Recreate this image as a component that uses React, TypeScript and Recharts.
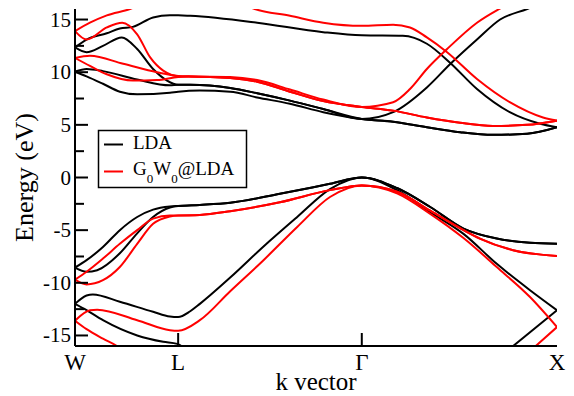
import { LineChart, Line, XAxis, YAxis, Label } from 'recharts';

type Pt = [number, number | null];

// path coordinate along W-L-Γ-X, scaled 0..100
const kTicks = [0, 21.4, 59.5, 100];
const kLabels = ['W', 'L', 'Γ', 'X'];
const energyTicks = [-15, -12.5, -10, -7.5, -5, -2.5, 0, 2.5, 5, 7.5, 10, 12.5, 15];

// LDA bands (eV)
const ldaBand1: Pt[] = [[0, -12.0], [2.4, -12.6], [5.8, -13.55], [12.9, -15.0], [18.3, -15.6], [21.2, -15.8], [23.0, -16.3], [24.5, -16.9], [50, null], [88.5, -16.9], [100, -12.6]];
const ldaBand2: Pt[] = [[0, -12.0], [2.4, -11.2], [3.7, -11.1], [9.3, -11.8], [16.2, -12.75], [19.7, -13.2], [21.4, -13.25], [23.9, -12.7], [25.9, -12.0], [32.2, -9.5], [39.0, -6.6], [46.1, -3.75], [52.9, -1.1], [59.5, 0], [66.8, -1.0], [73.7, -2.8], [80.6, -4.85], [87.5, -5.8], [94.4, -6.2], [100, -6.3]];
const ldaBand3: Pt[] = [[0, -8.55], [2.4, -8.95], [4.6, -8.8], [9.3, -7.2], [12.9, -5.3], [16.2, -3.75], [19.7, -2.85], [21.4, -2.7], [25.9, -2.6], [32.2, -2.4], [42.5, -1.55], [52.9, -0.6], [59.5, 0], [66.8, -1.2], [73.7, -3.3], [80.6, -5.35], [87.5, -8.2], [94.4, -10.7], [100, -12.6]];
const ldaBand4: Pt[] = [[0, -8.55], [2.4, -7.85], [5.8, -6.6], [9.3, -5.0], [12.9, -3.75], [16.2, -3.05], [19.7, -2.75], [21.4, -2.7], [25.9, -2.6], [32.2, -2.4], [42.5, -1.55], [52.9, -0.6], [59.5, 0], [66.8, -1.0], [73.7, -2.8], [80.6, -4.85], [87.5, -5.8], [94.4, -6.2], [100, -6.3]];
const ldaBand5: Pt[] = [[0, 10.05], [2.4, 9.6], [5.8, 8.9], [9.3, 8.15], [12.9, 7.9], [19.7, 8.05], [21.4, 8.15], [25.9, 8.25], [32.2, 8.15], [37.8, 7.6], [44.6, 7.0], [51.5, 6.2], [59.5, 5.55], [66.0, 5.3], [73.0, 4.77], [79.9, 4.3], [86.7, 4.05], [93.8, 4.15], [100, 4.77]];
const ldaBand6: Pt[] = [[0, 10.05], [2.4, 10.3], [5.8, 10.1], [12.9, 9.3], [19.7, 8.75], [21.4, 8.8], [23.9, 8.8], [32.2, 8.5], [37.8, 8.0], [44.6, 7.3], [51.5, 6.5], [59.5, 5.55], [66.0, 6.2], [73.0, 8.55], [77.8, 10.75], [83.4, 13.1], [88.2, 15.0], [93.8, 16.0], [96.5, 16.5]];
const ldaBand7: Pt[] = [[0, 12.35], [2.4, 11.9], [5.8, 12.5], [9.7, 13.3], [12.9, 12.2], [16.2, 10.3], [19.1, 9.2], [21.4, 8.8], [23.9, 8.8], [32.2, 8.5], [37.8, 8.0], [44.6, 7.3], [51.5, 6.5], [59.5, 5.55], [66.0, 5.3], [73.0, 4.77], [79.9, 4.3], [86.7, 4.05], [93.8, 4.15], [100, 4.77]];
const ldaBand8: Pt[] = [[0, 12.35], [2.4, 13.1], [6.6, 13.7], [9.3, 14.15], [12.0, 14.3], [16.2, 15.2], [19.7, 15.4], [21.4, 15.4], [23.9, 15.35], [37.8, 14.7], [51.5, 13.8], [59.5, 13.5], [68.0, 13.45], [73.0, 12.7], [77.8, 10.9], [83.4, 8.4], [90.2, 6.2], [96.5, 5.1], [100, 4.77]];

// G0W0@LDA bands (eV)
const gwBand1: Pt[] = [[0, -13.6], [2.4, -14.4], [5.8, -15.3], [8.7, -16.0], [10.5, -16.6], [50, null], [94.0, -16.65], [100, -14.2]];
const gwBand2: Pt[] = [[0, -13.6], [3.1, -12.6], [4.6, -12.55], [12.9, -13.55], [19.7, -14.5], [21.4, -14.55], [25.9, -13.55], [32.2, -10.8], [39.0, -7.9], [46.1, -4.7], [52.9, -1.85], [59.5, -0.75], [66.8, -1.35], [73.7, -3.15], [80.6, -5.0], [84.0, -5.8], [90.9, -6.9], [100, -7.45]];
const gwBand3: Pt[] = [[0, -9.7], [2.4, -10.15], [5.8, -9.75], [9.3, -8.5], [12.9, -6.3], [16.2, -4.4], [19.7, -3.7], [21.4, -3.6], [25.9, -3.55], [32.2, -3.2], [42.5, -2.35], [52.9, -1.2], [59.5, -0.75], [66.8, -1.5], [73.7, -3.45], [80.6, -5.75], [87.5, -8.5], [94.4, -11.35], [100, -14.2]];
const gwBand4: Pt[] = [[0, -9.7], [2.4, -8.95], [5.8, -7.7], [9.3, -6.3], [12.9, -5.0], [16.2, -3.9], [19.7, -3.6], [21.4, -3.6], [25.9, -3.55], [32.2, -3.2], [42.5, -2.35], [52.9, -1.2], [59.5, -0.75], [66.8, -1.35], [73.7, -3.15], [80.6, -5.0], [84.0, -5.8], [90.9, -6.9], [100, -7.45]];
const gwBand5: Pt[] = [[0, 11.35], [3.1, 10.6], [6.6, 9.8], [12.0, 9.2], [17.0, 9.25], [21.4, 9.55], [23.9, 9.6], [32.2, 9.45], [37.8, 9.1], [44.6, 8.15], [51.5, 7.25], [59.5, 6.7], [66.0, 6.35], [73.0, 5.7], [79.9, 5.2], [86.7, 4.9], [93.8, 5.0], [100, 5.4]];
const gwBand6: Pt[] = [[0, 11.35], [3.1, 11.55], [10.0, 10.8], [17.0, 10.0], [21.4, 9.65], [23.9, 9.6], [32.2, 9.55], [37.8, 9.25], [44.6, 8.35], [51.5, 7.4], [59.5, 6.7], [66.0, 7.15], [69.5, 8.4], [73.0, 10.3], [77.2, 12.2], [83.4, 14.7], [87.6, 15.9], [90.5, 16.6]];
const gwBand7: Pt[] = [[0, 13.9], [2.4, 13.1], [6.6, 14.25], [9.8, 14.7], [12.9, 13.6], [15.6, 11.4], [18.3, 10.15], [21.8, 9.6], [23.9, 9.6], [32.2, 9.45], [37.8, 9.1], [44.6, 8.15], [51.5, 7.25], [59.5, 6.7], [66.0, 6.35], [73.0, 5.7], [79.9, 5.2], [86.7, 4.9], [93.8, 5.0], [100, 5.4]];
const gwBand8: Pt[] = [[0, 13.9], [3.1, 14.7], [6.6, 15.4], [11.4, 16.0], [14.0, 16.5], [25, null], [35.0, 16.4], [37.3, 16.0], [44.6, 15.35], [51.5, 14.7], [59.5, 14.4], [66.0, 14.5], [69.5, 14.25], [73.0, 13.3], [77.2, 11.9], [83.4, 9.35], [90.2, 7.15], [97.1, 5.7], [100, 5.4]];

const ldaBands = [ldaBand1, ldaBand2, ldaBand3, ldaBand4, ldaBand5, ldaBand6, ldaBand7, ldaBand8];
const gwBands = [gwBand1, gwBand2, gwBand3, gwBand4, gwBand5, gwBand6, gwBand7, gwBand8];

const LDA_COLOR = '#000000';
const GW_COLOR = '#ff0000';
const FONT = '"Liberation Serif", "Times New Roman", serif';

const toPoints = (band: Pt[]) => band.map(([k, e]) => ({ k, e }));

const isMajor = (v: number) => v % 5 === 0;

const LeftTick = ({ x, y, payload }: any) => {
  const v = payload.value as number;
  return (
    <g>
      <line x1={x} x2={x + (isMajor(v) ? 13 : 9)} y1={y} y2={y} stroke="#000" strokeWidth={2} />
      {isMajor(v) && (
        <text x={x - 4} y={y + 7} textAnchor="end" fontFamily={FONT} fontSize={21} fill="#000">
          {v}
        </text>
      )}
    </g>
  );
};

const RightTick = ({ x, y }: any) => (
  <line x1={x - 13} x2={x} y1={y} y2={y} stroke="#000" strokeWidth={2} />
);

const BottomTick = ({ x, y, payload }: any) => {
  const i = kTicks.indexOf(payload.value);
  const inner = i > 0 && i < kTicks.length - 1;
  return (
    <g>
      {inner && <line x1={x} x2={x} y1={y} y2={y - 13} stroke="#000" strokeWidth={2} />}
      <text x={x} y={y + 23.5} textAnchor="middle" fontFamily={FONT} fontSize={23} fill="#000">
        {kLabels[i]}
      </text>
    </g>
  );
};

const TopTick = ({ x, y }: any) => (
  <line x1={x} x2={x} y1={y} y2={y + 13} stroke="#000" strokeWidth={2} />
);

const axisLine = { stroke: '#000', strokeWidth: 2 };

export default function App() {
  return (
    <div style={{ position: 'absolute', left: 0, top: 0, width: 574, height: 396, background: '#fff' }}>
      <LineChart width={574} height={396} margin={{ top: 9, right: 17, bottom: 0, left: 0 }}>
        <XAxis
          xAxisId="b"
          dataKey="k"
          type="number"
          domain={[0, 100]}
          ticks={kTicks}
          interval={0}
          allowDataOverflow
          height={50}
          tickSize={0}
          tickMargin={0}
          tickLine={false}
          axisLine={axisLine}
          tick={<BottomTick />}
        >
          <Label
            content={() => (
              <text x={316} y={390} textAnchor="middle" fontFamily={FONT} fontSize={25} fill="#000">
                k vector
              </text>
            )}
          />
        </XAxis>
        <XAxis
          xAxisId="t"
          orientation="top"
          type="number"
          domain={[0, 100]}
          ticks={[kTicks[1], kTicks[2]]}
          interval={0}
          allowDataOverflow
          height={0}
          tickSize={0}
          tickMargin={0}
          tickLine={false}
          axisLine={axisLine}
          tick={<TopTick />}
        />
        <YAxis
          yAxisId="l"
          type="number"
          domain={[-16, 16]}
          ticks={energyTicks}
          interval={0}
          allowDataOverflow
          width={75}
          tickSize={0}
          tickMargin={0}
          tickLine={false}
          axisLine={axisLine}
          tick={<LeftTick />}
        >
          <Label
            content={() => (
              <text
                x={33}
                y={177.5}
                transform="rotate(-90 33 177.5)"
                textAnchor="middle"
                fontFamily={FONT}
                fontSize={26}
                fill="#000"
              >
                Energy (eV)
              </text>
            )}
          />
        </YAxis>
        <YAxis
          yAxisId="r"
          orientation="right"
          type="number"
          domain={[-16, 16]}
          ticks={energyTicks}
          interval={0}
          allowDataOverflow
          width={0}
          tickSize={0}
          tickMargin={0}
          tickLine={false}
          axisLine={axisLine}
          tick={<RightTick />}
        />
        {ldaBands.map((band, i) => (
          <Line
            key={`lda-${i}`}
            data={toPoints(band)}
            dataKey="e"
            xAxisId="b"
            yAxisId="l"
            type="monotone"
            stroke={LDA_COLOR}
            strokeWidth={2}
            dot={false}
            activeDot={false}
            connectNulls={false}
            isAnimationActive={false}
          />
        ))}
        {gwBands.map((band, i) => (
          <Line
            key={`gw-${i}`}
            data={toPoints(band)}
            dataKey="e"
            xAxisId="b"
            yAxisId="l"
            type="monotone"
            stroke={GW_COLOR}
            strokeWidth={2}
            dot={false}
            activeDot={false}
            connectNulls={false}
            isAnimationActive={false}
          />
        ))}
      </LineChart>
      <svg width={574} height={396} style={{ position: 'absolute', left: 0, top: 0, pointerEvents: 'none' }}>
        <rect x={98.5} y={130.5} width={148} height={57} fill="#fff" stroke="#000" strokeWidth={1.5} />
        <line x1={104} x2={123} y1={144.5} y2={144.5} stroke={LDA_COLOR} strokeWidth={2} />
        <text x={133} y={148.5} fontFamily={FONT} fontSize={19} fill="#000">LDA</text>
        <line x1={104} x2={123} y1={171.5} y2={171.5} stroke={GW_COLOR} strokeWidth={2} />
        <text x={133} y={175} fontFamily={FONT} fontSize={19} fill="#000">
          G<tspan fontSize={13} dy={8}>0</tspan>
          <tspan dy={-8}>W</tspan>
          <tspan fontSize={13} dy={8}>0</tspan>
          <tspan dy={-8}>@LDA</tspan>
        </text>
      </svg>
    </div>
  );
}
